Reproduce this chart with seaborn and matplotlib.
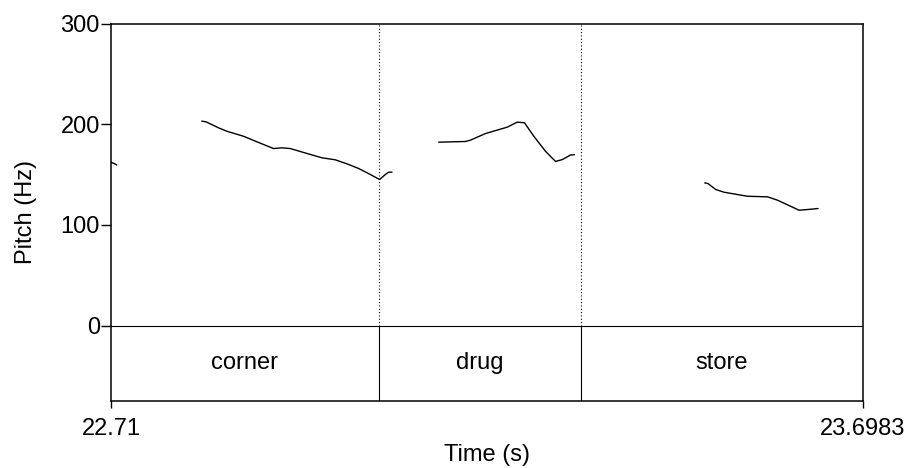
import matplotlib
matplotlib.use("Agg")
import matplotlib.pyplot as plt
import seaborn as sns
import pandas as pd

# ---- data ----
t_start, t_end = 22.71, 23.6983
boundaries = [23.0622, 23.3277]
words = ["corner", "drug", "store"]

seg1_t = [22.7100, 22.7140, 22.7175]
seg1_hz = [162.0, 161.0, 159.5]

seg2_t = [22.8293, 22.8350, 22.8512, 22.8622, 22.8841, 22.9017, 22.9236, 22.9346,
          22.9455, 22.9675, 22.9872, 23.0047, 23.0201, 23.0354, 23.0508, 23.0630,
          23.0705, 23.0749, 23.0793]
seg2_hz = [203.0, 202.3, 196.4, 193.0, 188.0, 182.5, 175.8, 176.5,
           175.8, 170.9, 166.6, 164.6, 160.6, 156.0, 150.0, 145.0,
           150.0, 152.3, 152.3]

seg3_t = [23.1407, 23.1758, 23.1824, 23.2021, 23.2307, 23.2438, 23.2534, 23.2657,
          23.2811, 23.2942, 23.3031, 23.3140, 23.3192]
seg3_hz = [182.1, 182.8, 184.1, 190.7, 197.0, 202.0, 201.4, 188.0,
           173.0, 163.0, 164.8, 169.4, 169.7]

seg4_t = [23.4903, 23.4946, 23.5047, 23.5157, 23.5464, 23.5728, 23.5859, 23.6143,
          23.6254, 23.6393]
seg4_hz = [141.7, 141.0, 135.1, 132.4, 128.4, 127.8, 124.5, 114.5,
           115.2, 116.2]

y_ticks = [0, 100, 200, 300]
x_tick_labels = ["22.71", "23.6983"]

# ---- build table ----
rows = []
for i, (ts, hs) in enumerate([(seg1_t, seg1_hz), (seg2_t, seg2_hz),
                              (seg3_t, seg3_hz), (seg4_t, seg4_hz)]):
    for t, h in zip(ts, hs):
        rows.append({"time": t, "pitch": h, "seg": i})
df = pd.DataFrame(rows)

sns.set_style("ticks")
plt.rcParams["font.family"] = ["Liberation Sans", "DejaVu Sans"]
plt.rcParams["font.size"] = 17
plt.rcParams["text.color"] = "black"
plt.rcParams["axes.labelcolor"] = "black"
plt.rcParams["xtick.color"] = "black"
plt.rcParams["ytick.color"] = "black"

fig = plt.figure(figsize=(9.11, 4.68), dpi=100)
W, H = 911, 468
left, right, top, bottom = 111, 863, 23.5, 401
ax = fig.add_axes([left / W, 1 - bottom / H, (right - left) / W, (bottom - top) / H])

y_min = -75
sns.lineplot(data=df, x="time", y="pitch", units="seg", estimator=None,
             color="black", linewidth=1.0, ax=ax, legend=False)

ax.set_xlim(t_start, t_end)
ax.set_ylim(y_min, 300)

# tier separator
ax.axhline(0, color="black", linewidth=0.8)
for b in boundaries:
    ax.plot([b, b], [0, 300], color="black", linewidth=0.8, linestyle=(0, (1, 2)))
    ax.plot([b, b], [y_min, 0], color="black", linewidth=0.8)

edges = [t_start] + boundaries + [t_end]
for w, a, b in zip(words, edges[:-1], edges[1:]):
    ax.text((a + b) / 2, y_min / 2, w, ha="center", va="center", fontsize=17,
            color="black")

ax.set_yticks(y_ticks)
ax.set_yticklabels([str(v) for v in y_ticks])
ax.set_xticks([t_start, t_end])
ax.set_xticklabels(x_tick_labels)

for s in ax.spines.values():
    s.set_linewidth(1.1)
    s.set_color("black")
ax.tick_params(axis="y", length=7, width=1.0, pad=1, labelsize=17,
               colors="black", labelcolor="black")
ax.tick_params(axis="x", length=5, width=1.0, pad=7, labelsize=17,
               colors="black", labelcolor="black")

ax.set_ylabel("Pitch (Hz)", fontsize=17, color="black")
ax.set_xlabel("Time (s)", fontsize=17, color="black")
ax.yaxis.set_label_coords((37 - left) / (right - left), 0.5)
ax.xaxis.set_label_coords(0.5, -(444 - bottom) / (bottom - top))

fig.savefig("out.png", dpi=100)
